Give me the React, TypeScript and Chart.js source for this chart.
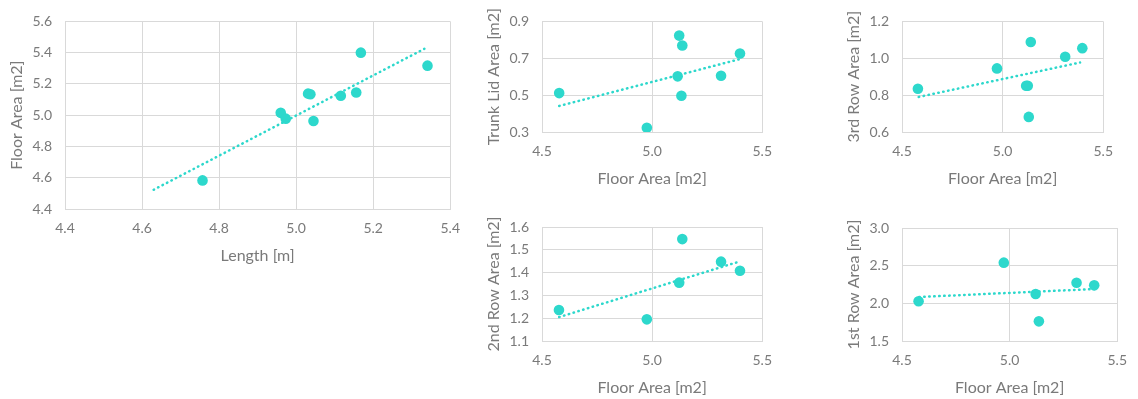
import React, { useEffect, useRef } from "react";
import { Chart, registerables } from "chart.js";

Chart.register(...registerables);

// ---- Data ----
const lengthX = [4.757, 4.960, 4.973, 5.031, 5.037, 5.045, 5.116, 5.156, 5.168, 5.341];
const floorY = [4.583, 5.015, 4.978, 5.138, 5.134, 4.963, 5.124, 5.145, 5.400, 5.317];
const floorTrendX = [4.63, 5.333];
const floorTrendY = [4.523, 5.425];

const trunkX = [4.578, 4.976, 5.123, 5.137, 5.116, 5.133, 5.313, 5.399];
const trunkY = [0.511, 0.323, 0.823, 0.769, 0.602, 0.497, 0.605, 0.726];
const trunkTrendX = [4.578, 5.407];
const trunkTrendY = [0.441, 0.698];

const row3X = [4.579, 4.972, 5.140, 5.117, 5.125, 5.130, 5.311, 5.396];
const row3Y = [0.835, 0.945, 1.088, 0.851, 0.851, 0.682, 1.008, 1.055];
const row3TrendX = [4.583, 5.385];
const row3TrendY = [0.790, 0.977];

const row2X = [4.577, 4.976, 5.123, 5.137, 5.313, 5.399];
const row2Y = [1.236, 1.195, 1.356, 1.547, 1.448, 1.408];
const row2TrendX = [4.578, 5.398];
const row2TrendY = [1.205, 1.449];

const row1X = [4.577, 4.973, 5.121, 5.136, 5.311, 5.393];
const row1Y = [2.027, 2.540, 2.124, 1.761, 2.274, 2.239];
const row1TrendX = [4.580, 5.393];
const row1TrendY = [2.084, 2.190];

const COLOR = "#2dd8cc";
const TEXT = "#7a7a7a";
const GRID = "#d9d9d9";
const FONT = "Lato, 'Noto Sans', sans-serif";

type Spec = {
  xs: number[];
  ys: number[];
  tx: number[];
  ty: number[];
  xTitle: string;
  yTitle: string;
  xMin: number;
  xMax: number;
  xStep: number;
  yMin: number;
  yMax: number;
  yStep: number;
  plot: { l: number; t: number; r: number; b: number };
  box: { left: number; top: number; right: number };
};

const Y_AXIS_W = 58;
const X_AXIS_H = 56;

const specs: Spec[] = [
  {
    xs: lengthX, ys: floorY, tx: floorTrendX, ty: floorTrendY,
    xTitle: "Length [m]", yTitle: "Floor Area [m2]",
    xMin: 4.4, xMax: 5.4, xStep: 0.2, yMin: 4.4, yMax: 5.6, yStep: 0.2,
    plot: { l: 65, t: 17, r: 451, b: 209 }, box: { left: 7, top: 0, right: 471 },
  },
  {
    xs: trunkX, ys: trunkY, tx: trunkTrendX, ty: trunkTrendY,
    xTitle: "Floor Area [m2]", yTitle: "Trunk Lid Area [m2]",
    xMin: 4.5, xMax: 5.5, xStep: 0.5, yMin: 0.3, yMax: 0.9, yStep: 0.2,
    plot: { l: 542, t: 17, r: 763, b: 132 }, box: { left: 484, top: 0, right: 783 },
  },
  {
    xs: row3X, ys: row3Y, tx: row3TrendX, ty: row3TrendY,
    xTitle: "Floor Area [m2]", yTitle: "3rd Row Area [m2]",
    xMin: 4.5, xMax: 5.5, xStep: 0.5, yMin: 0.6, yMax: 1.2, yStep: 0.2,
    plot: { l: 902, t: 17, r: 1104, b: 132 }, box: { left: 844, top: 0, right: 1124 },
  },
  {
    xs: row2X, ys: row2Y, tx: row2TrendX, ty: row2TrendY,
    xTitle: "Floor Area [m2]", yTitle: "2nd Row Area [m2]",
    xMin: 4.5, xMax: 5.5, xStep: 0.5, yMin: 1.1, yMax: 1.6, yStep: 0.1,
    plot: { l: 542, t: 227, r: 763, b: 341 }, box: { left: 484, top: 200, right: 783 },
  },
  {
    xs: row1X, ys: row1Y, tx: row1TrendX, ty: row1TrendY,
    xTitle: "Floor Area [m2]", yTitle: "1st Row Area [m2]",
    xMin: 4.5, xMax: 5.5, xStep: 0.5, yMin: 1.5, yMax: 3.0, yStep: 0.5,
    plot: { l: 902, t: 228, r: 1122, b: 341 }, box: { left: 844, top: 200, right: 1138 },
  },
];

function ScatterPanel({ spec }: { spec: Spec }) {
  const ref = useRef<HTMLCanvasElement | null>(null);
  const width = spec.box.right - spec.box.left;
  const height = spec.plot.b + X_AXIS_H - spec.box.top;

  useEffect(() => {
    if (!ref.current) return;
    const pts = spec.xs.map((x, i) => ({ x, y: spec.ys[i] }));
    const trend = spec.tx.map((x, i) => ({ x, y: spec.ty[i] }));
    const chart = new Chart(ref.current, {
      type: "scatter",
      data: {
        datasets: [
          {
            type: "line",
            data: trend,
            borderColor: COLOR,
            borderWidth: 2.5,
            borderDash: [0.5, 4.5],
            borderCapStyle: "round",
            pointRadius: 0,
            fill: false,
          } as any,
          {
            data: pts,
            backgroundColor: COLOR,
            borderColor: COLOR,
            pointRadius: 5.3,
            pointBorderWidth: 0,
          },
        ],
      },
      options: {
        animation: false,
        responsive: false,
        devicePixelRatio: 1,
        layout: {
          padding: {
            left: spec.plot.l - Y_AXIS_W - spec.box.left,
            top: spec.plot.t - spec.box.top,
            right: spec.box.right - spec.plot.r,
            bottom: 0,
          },
        },
        plugins: {
          legend: { display: false },
          tooltip: { enabled: false },
        },
        scales: {
          x: {
            type: "linear",
            min: spec.xMin,
            max: spec.xMax,
            ticks: {
              stepSize: spec.xStep,
              color: TEXT,
              font: { family: FONT, size: 14 },
              padding: 11,
              callback: (v: any) => Number(v).toFixed(1),
            },
            grid: { color: GRID, drawTicks: false, lineWidth: 1 },
            border: { color: GRID, display: true },
            title: {
              display: true,
              text: spec.xTitle,
              color: TEXT,
              font: { family: FONT, size: 16 },
              padding: 0,
            },
            afterFit: (scale: any) => {
              scale.height = X_AXIS_H;
            },
          },
          y: {
            type: "linear",
            min: spec.yMin,
            max: spec.yMax,
            ticks: {
              stepSize: spec.yStep,
              color: TEXT,
              font: { family: FONT, size: 14 },
              padding: 13,
              callback: (v: any) => Number(v).toFixed(1),
            },
            grid: { color: GRID, drawTicks: false, lineWidth: 1 },
            border: { color: GRID, display: true },
            title: {
              display: true,
              text: spec.yTitle,
              color: TEXT,
              font: { family: FONT, size: 16 },
              padding: 0,
            },
            afterFit: (scale: any) => {
              scale.width = Y_AXIS_W;
            },
          },
        },
      },
    });
    return () => chart.destroy();
  }, [spec]);

  return (
    <div
      style={{
        position: "absolute",
        left: spec.box.left,
        top: spec.box.top,
        width,
        height,
      }}
    >
      <canvas ref={ref} width={width} height={height} style={{ display: "block" }} />
    </div>
  );
}

export default function App() {
  return (
    <div
      style={{
        position: "absolute",
        left: 0,
        top: 0,
        width: 1138,
        height: 399,
        background: "#ffffff",
        overflow: "hidden",
      }}
    >
      {specs.map((s, i) => (
        <ScatterPanel key={i} spec={s} />
      ))}
    </div>
  );
}
